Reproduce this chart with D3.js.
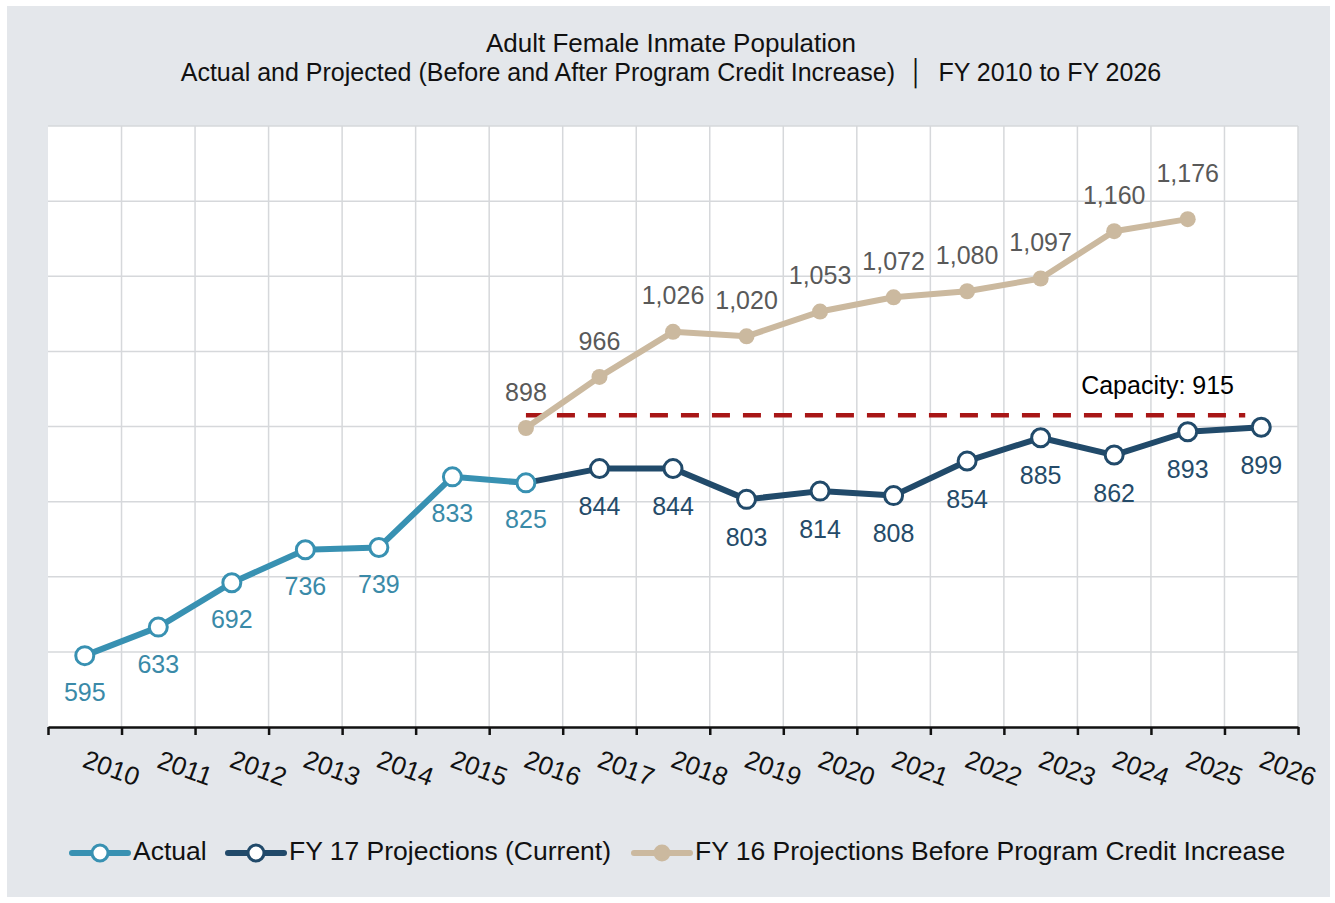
<!DOCTYPE html>
<html>
<head>
<meta charset="utf-8">
<script src="https://cdn.jsdelivr.net/npm/d3@7"></script>
<style>
  body { margin: 0; background: #fff; }
  svg { display: block; font-family: "Liberation Sans", Arial, sans-serif; }
</style>
</head>
<body>
<svg id="chart" width="1335" height="903"></svg>
<script>
// Adult female inmate population - actual vs projections
var years = d3.range(2010, 2027);
var actualYears = [2010, 2011, 2012, 2013, 2014, 2015, 2016];
var actualVals = [595, 633, 692, 736, 739, 833, 825];
var fy17Years = [2016, 2017, 2018, 2019, 2020, 2021, 2022, 2023, 2024, 2025, 2026];
var fy17Vals = [825, 844, 844, 803, 814, 808, 854, 885, 862, 893, 899];
var fy16Years = [2016, 2017, 2018, 2019, 2020, 2021, 2022, 2023, 2024, 2025];
var fy16Vals = [898, 966, 1026, 1020, 1053, 1072, 1080, 1097, 1160, 1176];
var capacity = 915;
var yTicks = [500, 600, 700, 800, 900, 1000, 1100, 1200, 1300];

var C_ACT = "#3891b2", C_F17 = "#214a6a", C_F16 = "#cbb99f", C_CAP = "#a81616";

var svg = d3.select("#chart");

// grey panel
svg.append("rect").attr("x", 7).attr("y", 6).attr("width", 1323).attr("height", 891)
	.attr("fill", "#e4e7eb");

var pLeft = 48, pRight = 1298, pTop = 126, pBottom = 727;
var x = d3.scaleBand().domain(years).range([pLeft, pRight]).padding(0);
var y = d3.scaleLinear().domain([500, 1300]).range([pBottom, pTop]);
var bw = x.bandwidth();
var cx = function(yr) { return x(yr) + bw / 2; };

svg.append("rect").attr("x", pLeft).attr("y", pTop).attr("width", pRight - pLeft).attr("height", pBottom - pTop)
	.attr("fill", "#fff");

// grid
var grid = svg.append("g").attr("stroke", "#d6d8db").attr("stroke-width", 1.5);
grid.selectAll("line.h").data(yTicks.slice(1)).enter().append("line")
	.attr("x1", pLeft).attr("x2", pRight)
	.attr("y1", function(d) { return y(d); }).attr("y2", function(d) { return y(d); });
grid.selectAll("line.v").data(years.slice(1).concat([2027])).enter().append("line")
	.attr("y1", pTop).attr("y2", pBottom)
	.attr("x1", function(d) { return d == 2027 ? pRight : x(d); })
	.attr("x2", function(d) { return d == 2027 ? pRight : x(d); });

// x axis - ticks on band edges
var xEdge = d3.scaleLinear().domain([0, years.length]).range([pLeft, pRight]);
var ax = svg.append("g").attr("transform", "translate(0," + pBottom + ")")
	.call(d3.axisBottom(xEdge).tickValues(d3.range(0, years.length + 1)).tickSize(8).tickSizeOuter(0).tickFormat(""));
ax.select(".domain").attr("stroke", "#111").attr("stroke-width", 2.5);
ax.selectAll(".tick line").attr("stroke", "#111").attr("stroke-width", 2.5);

svg.append("g").selectAll("text").data(years).enter().append("text")
	.attr("transform", function(d) { return "translate(" + (cx(d) + 26) + ",770) rotate(20)"; })
	.attr("text-anchor", "middle").attr("dominant-baseline", "middle")
	.attr("font-size", 26).attr("fill", "#111")
	.text(function(d) { return d; });

// capacity line
svg.append("line")
	.attr("x1", cx(2016)).attr("x2", cx(2026) - 16)
	.attr("y1", y(capacity)).attr("y2", y(capacity))
	.attr("stroke", C_CAP).attr("stroke-width", 4.5).attr("stroke-dasharray", "18,13");
svg.append("text").attr("x", 1234).attr("y", y(capacity) - 28)
	.attr("text-anchor", "end").attr("dominant-baseline", "middle")
	.attr("font-size", 25).attr("fill", "#000")
	.text("Capacity: " + capacity);

var line = d3.line().x(function(d) { return cx(d[0]); }).y(function(d) { return y(d[1]); });
var zip = function(a, b) { return a.map(function(v, i) { return [v, b[i]]; }); };

var fy16 = zip(fy16Years, fy16Vals), fy17 = zip(fy17Years, fy17Vals), act = zip(actualYears, actualVals);

// FY16 series
svg.append("path").datum(fy16).attr("d", line).attr("fill", "none")
	.attr("stroke", C_F16).attr("stroke-width", 6).attr("stroke-linejoin", "round");
svg.append("g").selectAll("circle").data(fy16).enter().append("circle")
	.attr("cx", function(d) { return cx(d[0]); }).attr("cy", function(d) { return y(d[1]); })
	.attr("r", 8).attr("fill", C_F16);

// FY17 series
svg.append("path").datum(fy17).attr("d", line).attr("fill", "none")
	.attr("stroke", C_F17).attr("stroke-width", 6).attr("stroke-linejoin", "round");
svg.append("g").selectAll("circle").data(fy17.slice(1)).enter().append("circle")
	.attr("cx", function(d) { return cx(d[0]); }).attr("cy", function(d) { return y(d[1]); })
	.attr("r", 9).attr("fill", "#fff").attr("stroke", C_F17).attr("stroke-width", 3);

// actual
svg.append("path").datum(act).attr("d", line).attr("fill", "none")
	.attr("stroke", C_ACT).attr("stroke-width", 6).attr("stroke-linejoin", "round");
svg.append("g").selectAll("circle").data(act).enter().append("circle")
	.attr("cx", function(d) { return cx(d[0]); }).attr("cy", function(d) { return y(d[1]); })
	.attr("r", 9).attr("fill", "#fff").attr("stroke", C_ACT).attr("stroke-width", 3);

// data labels
var fmt = d3.format(",");
var labels = function(data, color, dy) {
	svg.append("g").selectAll("text").data(data).enter().append("text")
		.attr("x", function(d) { return cx(d[0]); })
		.attr("y", function(d, i) { return y(d[1]) + (typeof dy == "function" ? dy(d, i) : dy); })
		.attr("text-anchor", "middle").attr("dominant-baseline", "middle")
		.attr("font-size", 25).attr("fill", color)
		.text(function(d) { return fmt(d[1]); });
};
labels(act, "#3a8aa8", 39);
labels(fy17.slice(1), "#254b69", 40);
// last label sits a bit higher, clear of the 1,160 one
labels(fy16, "#595959", function(d, i) { return i == fy16.length - 1 ? -44 : -34; });

// title
svg.append("text").attr("x", 671).attr("y", 45).attr("text-anchor", "middle")
	.attr("dominant-baseline", "middle").attr("font-size", 26).attr("fill", "#111")
	.text("Adult Female Inmate Population");
svg.append("text").attr("x", 671).attr("y", 74).attr("text-anchor", "middle")
	.attr("dominant-baseline", "middle").attr("font-size", 25).attr("fill", "#111")
	.attr("xml:space", "preserve")
	.text("Actual and Projected (Before and After Program Credit Increase)  \u2502  FY 2010 to FY 2026");

// legend
var legend = [
	{name: "Actual", color: C_ACT, open: true, x: 72},
	{name: "FY 17 Projections (Current)", color: C_F17, open: true, x: 228},
	{name: "FY 16 Projections Before Program Credit Increase", color: C_F16, open: false, x: 634}
];
var lg = svg.append("g").selectAll("g").data(legend).enter().append("g")
	.attr("transform", function(d) { return "translate(" + d.x + ",853)"; });
lg.append("line").attr("x1", 0).attr("x2", 56).attr("stroke", function(d) { return d.color; })
	.attr("stroke-width", 6).attr("stroke-linecap", "round");
lg.append("circle").attr("cx", 28).attr("r", function(d) { return d.open ? 8 : 7; })
	.attr("fill", function(d) { return d.open ? "#fff" : d.color; })
	.attr("stroke", function(d) { return d.color; }).attr("stroke-width", 3);
lg.append("text").attr("x", 61).attr("dominant-baseline", "middle")
	.attr("font-size", 26.5).attr("fill", "#111")
	.text(function(d) { return d.name; });
</script>
</body>
</html>
